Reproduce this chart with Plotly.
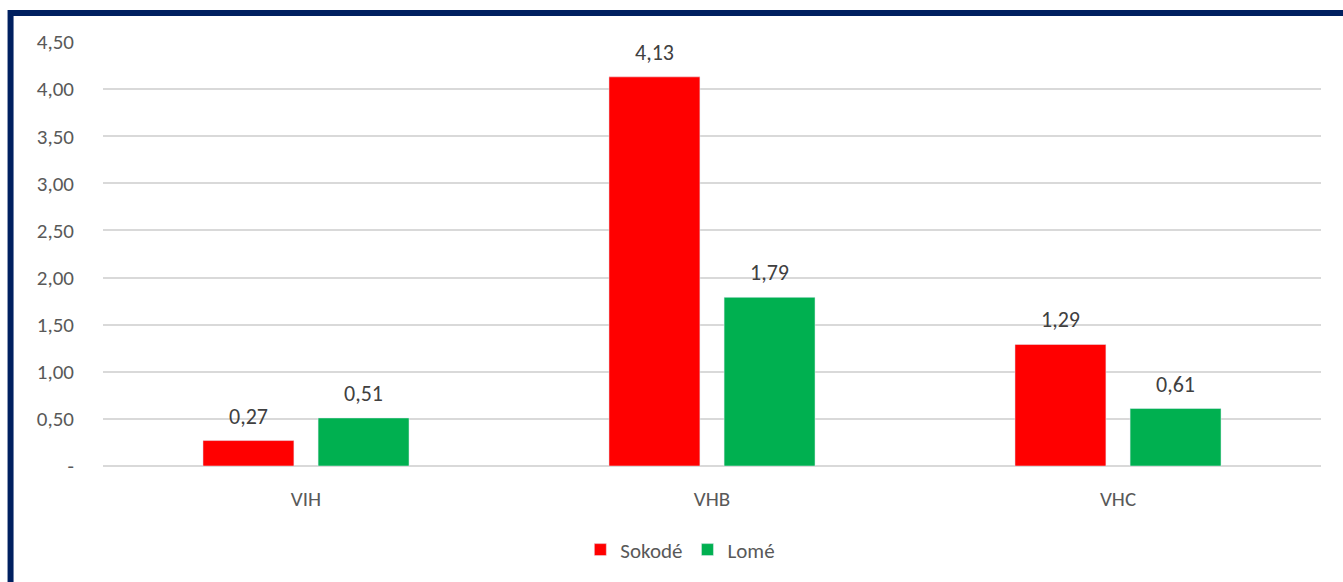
import plotly.graph_objects as go

categories = ["VIH", "VHB", "VHC"]
sokode = [0.27, 4.13, 1.29]
lome = [0.51, 1.79, 0.61]
tick_vals = [0, 0.5, 1.0, 1.5, 2.0, 2.5, 3.0, 3.5, 4.0, 4.5]
tick_text = ["-", "0,50", "1,00", "1,50", "2,00", "2,50", "3,00", "3,50", "4,00", "4,50"]

FONT = "Carlito, Calibri, Lato, sans-serif"

def fr(v):
    return f"{v:.2f}".replace(".", ",")

fig = go.Figure()
fig.add_trace(go.Bar(name="Sokodé", x=categories, y=sokode, marker_color="#FF0000"))
fig.add_trace(go.Bar(name="Lomé", x=categories, y=lome, marker_color="#00B050"))

annotations = []
for vals, shift in ((sokode, -57.5), (lome, 57.5)):
    for c, v in zip(categories, vals):
        annotations.append(dict(x=c, y=v, xref="x", yref="y", text=fr(v), showarrow=False,
                                xshift=shift, yshift=9, yanchor="bottom",
                                font=dict(family=FONT, size=22, color="#404040")))

fig.update_layout(
    width=1343, height=582,
    margin=dict(l=103, r=22, t=42, b=116),
    paper_bgcolor="white", plot_bgcolor="white",
    barmode="group", bargap=0.433, bargroupgap=0.21,
    font=dict(family=FONT, size=21, color="#595959"),
    annotations=annotations,
    legend=dict(orientation="h", x=0.474, xanchor="center", y=-0.198, yanchor="middle",
                font=dict(family=FONT, size=21, color="#595959"), itemwidth=30),
    shapes=[dict(type="rect", xref="paper", yref="paper",
                 x0=-0.0759, x1=1.03, y0=-0.3, y1=1.0684,
                 line=dict(color="#002060", width=6))],
)
fig.update_xaxes(showgrid=False, showline=False, ticks="", ticklabelstandoff=18,
                 tickfont=dict(family=FONT, size=21, color="#595959"))
fig.update_yaxes(range=[0, 4.5], tickvals=tick_vals, ticktext=tick_text,
                 showgrid=True, gridcolor="#D9D9D9", gridwidth=1.5,
                 zeroline=True, zerolinecolor="#D9D9D9", zerolinewidth=1.5,
                 ticks="", ticklabelstandoff=28,
                 tickfont=dict(family=FONT, size=21, color="#595959"))

fig.write_html("out.html")
